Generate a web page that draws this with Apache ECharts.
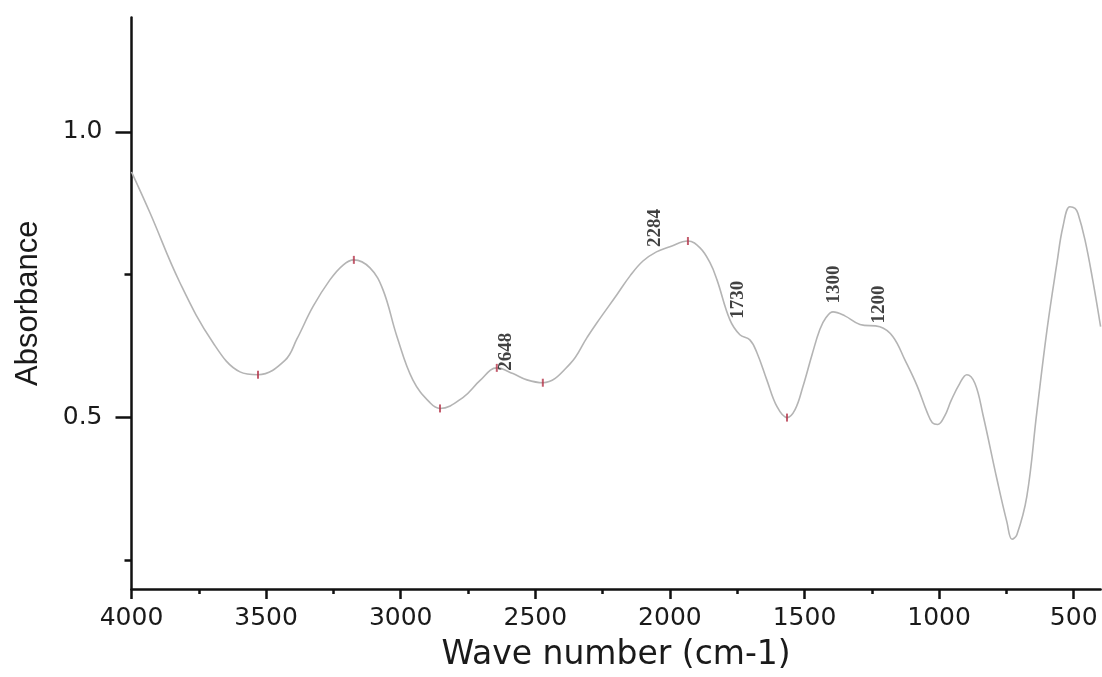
<!DOCTYPE html>
<html lang="en">
<head>
    <meta charset="UTF-8">
    <title>FTIR spectrum</title>
    <script type="text/javascript" src="https://cdn.jsdelivr.net/npm/echarts@6/dist/echarts.min.js"></script>
    <style>
        html, body { margin: 0; padding: 0; background: #fff; }
    </style>
</head>
<body>
    <div id="main" style="width: 1102px;height:677px;"></div>
    <script type="text/javascript">

        // spectrum (wave number, absorbance)
        var waveNumbers = [4000, 3931, 3820, 3697, 3597, 3530, 3430, 3385, 3326, 3263,
            3214, 3174, 3114, 3066, 3014, 2955, 2891, 2854, 2769, 2705,
            2643, 2583, 2531, 2472, 2371, 2308, 2271, 2197, 2148, 2100,
            2050, 2000, 1933, 1888, 1851, 1825, 1777, 1740, 1703, 1677,
            1640, 1602, 1565, 1535, 1506, 1472, 1443, 1420, 1394, 1350,
            1294, 1220, 1172, 1127, 1082, 1045, 1025, 1005, 980, 955,
            923, 897, 867, 837, 785, 748, 729, 711, 674, 637,
            599, 562, 540, 514, 495, 484, 458, 429, 400];
        var absorbance = [0.930, 0.858, 0.736, 0.631, 0.580, 0.575, 0.600, 0.638, 0.694, 0.741,
            0.767, 0.776, 0.762, 0.724, 0.642, 0.566, 0.526, 0.516, 0.535, 0.565,
            0.587, 0.577, 0.566, 0.561, 0.594, 0.640, 0.666, 0.715, 0.748, 0.774,
            0.790, 0.799, 0.809, 0.797, 0.771, 0.741, 0.671, 0.645, 0.636, 0.614,
            0.566, 0.519, 0.500, 0.514, 0.554, 0.610, 0.654, 0.675, 0.685, 0.678,
            0.663, 0.659, 0.642, 0.601, 0.556, 0.510, 0.491, 0.488, 0.502, 0.530,
            0.560, 0.575, 0.560, 0.505, 0.392, 0.317, 0.287, 0.295, 0.362, 0.509,
            0.654, 0.771, 0.834, 0.869, 0.866, 0.857, 0.811, 0.740, 0.659];

        // little red pick marks
        var pickWave = [3530, 3174, 2854, 2643, 2472, 1933, 1565];
        var pickAbs = [0.575, 0.776, 0.516, 0.587, 0.561, 0.809, 0.500];

        // rotated band labels
        var bandNames = ['2648', '2284', '1730', '1300', '1200'];
        var bandWave = [2609, 2055, 1747, 1390, 1223];
        var bandAbs = [0.615, 0.832, 0.706, 0.733, 0.698];

        var xLabels = [4000, 3500, 3000, 2500, 2000, 1500, 1000, 500];
        var xMinor = [3750, 3250, 2750, 2250, 1750, 1250, 750];
        var yLabels = [0.5, 1.0];
        var yMinor = [0.25, 0.75];

        var spectrum = waveNumbers.map(function (w, i) { return [w, absorbance[i]]; });
        var picks = pickWave.map(function (w, i) { return [w, pickAbs[i]]; });
        var bands = bandWave.map(function (w, i) { return [w, bandAbs[i], bandNames[i]]; });

        var myChart = echarts.init(document.getElementById('main'));

        var axisFont = 'DejaVu Sans, Liberation Sans, sans-serif';

        var option = {
            backgroundColor: '#fff',
            animation: false,
            grid: { left: 131.5, right: 1.4, top: 17.6, bottom: 87.4 },
            xAxis: [{
                type: 'value',
                min: 400,
                max: 4000,
                inverse: true,
                name: 'Wave number (cm-1)',
                nameLocation: 'middle',
                nameGap: 50,
                nameTextStyle: { fontFamily: axisFont, fontSize: 33, color: '#1a1a1a' },
                axisLine: { onZero: false, lineStyle: { color: '#111', width: 2.5 } },
                axisTick: { show: true, inside: false, length: 10, customValues: xLabels, lineStyle: { color: '#111', width: 2.5 } },
                axisLabel: {
                    customValues: xLabels, margin: 17, fontFamily: axisFont, fontSize: 25, color: '#1a1a1a',
                    formatter: function (v) { return String(v); }
                },
                splitLine: { show: false }
            }, {
                // minor ticks only
                type: 'value',
                min: 400,
                max: 4000,
                inverse: true,
                position: 'bottom',
                axisLine: { show: false },
                axisTick: { show: true, length: 5, customValues: xMinor, lineStyle: { color: '#111', width: 2.5 } },
                axisLabel: { show: false },
                splitLine: { show: false }
            }],
            yAxis: [{
                type: 'value',
                min: 0.2,
                max: 1.2,
                name: 'Absorbance',
                nameLocation: 'middle',
                nameGap: 88,
                nameTextStyle: { fontFamily: 'Liberation Sans Narrow, Liberation Sans, sans-serif', fontSize: 31, color: '#1a1a1a' },
                axisLine: { show: true, onZero: false, lineStyle: { color: '#111', width: 2.5 } },
                axisTick: { show: true, length: 16, customValues: yLabels, lineStyle: { color: '#111', width: 2.5 } },
                axisLabel: {
                    customValues: yLabels, margin: 29, fontFamily: axisFont, fontSize: 25, color: '#1a1a1a',
                    formatter: function (v) { return v.toFixed(1); }
                },
                splitLine: { show: false }
            }, {
                type: 'value',
                min: 0.2,
                max: 1.2,
                position: 'left',
                axisLine: { show: false },
                axisTick: { show: true, length: 7, customValues: yMinor, lineStyle: { color: '#111', width: 2.5 } },
                axisLabel: { show: false },
                splitLine: { show: false }
            }],
            series: [{
                name: 'spectrum',
                type: 'line',
                data: spectrum,
                smooth: 0.4,
                showSymbol: false,
                lineStyle: { color: '#b4b4b4', width: 1.6 },
                z: 2
            }, {
                name: 'picks',
                type: 'scatter',
                data: picks,
                symbol: 'rect',
                symbolSize: [2, 8],
                itemStyle: { color: '#b5344a' },
                z: 3
            }, {
                name: 'bands',
                type: 'scatter',
                data: bands,
                symbolSize: 0,
                label: {
                    show: true,
                    position: 'inside',
                    rotate: 90,
                    formatter: function (p) { return p.value[2]; },
                    fontFamily: 'Liberation Serif, serif',
                    fontWeight: 'bold',
                    fontSize: 19,
                    color: '#111'
                },
                z: 4
            }]
        };

        myChart.setOption(option);

    </script>
</body>
</html>
